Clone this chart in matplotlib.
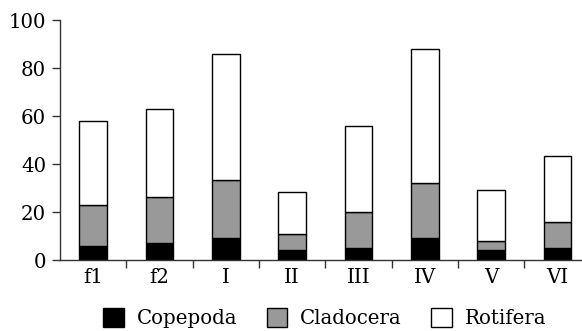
import numpy as np
import matplotlib
matplotlib.use('Agg')
import matplotlib.pyplot as plt
from matplotlib.patches import Patch

# sites and abundance per group (stacked)
sites = ['f1', 'f2', 'I', 'II', 'III', 'IV', 'V', 'VI']
copepoda = [6, 7, 9, 4.2, 5.1, 9, 4.2, 5.1]
cladocera = [17, 19.4, 24.2, 6.6, 14.8, 23.2, 3.8, 10.9]
rotifera = [35, 36.5, 52.8, 17.4, 36.1, 55.8, 21.2, 27.2]

plt.rcParams['font.family'] = ['DejaVu Serif']
plt.rcParams['font.size'] = 14.2

fig = plt.figure(figsize=(5.82, 3.31), dpi=100)
ax = fig.add_axes([60 / 582, 1 - 260 / 331, (582 - 60) / 582, 240 / 331])

x = np.arange(len(sites))
w = 0.42
cop = np.array(copepoda)
cla = np.array(cladocera)
rot = np.array(rotifera)

ax.bar(x, cop, w, color='black', edgecolor='black', linewidth=1)
ax.bar(x, cla, w, bottom=cop, color='#999999', edgecolor='black', linewidth=1)
ax.bar(x, rot, w, bottom=cop + cla, color='white', edgecolor='black', linewidth=1)

ax.set_xlim(-0.5, 7.37)
ax.set_ylim(0, 100)
ax.set_yticks([0, 20, 40, 60, 80, 100])
ax.set_xticks(x)
ax.set_xticklabels(sites)
ax.set_xticks(np.arange(0.5, 7, 1), minor=True)
ax.tick_params(axis='x', which='major', length=0, pad=6)
ax.tick_params(axis='x', which='minor', length=6, width=1, color='#333333', direction='out')
ax.tick_params(axis='y', length=6, width=1, color='#333333', pad=4)

for s in ['top', 'right']:
    ax.spines[s].set_visible(False)
for s in ['left', 'bottom']:
    ax.spines[s].set_color('#333333')
    ax.spines[s].set_linewidth(1)

handles = [Patch(facecolor='black', edgecolor='black', label='Copepoda'),
           Patch(facecolor='#999999', edgecolor='black', label='Cladocera'),
           Patch(facecolor='white', edgecolor='black', label='Rotifera')]
fig.legend(handles=handles, loc='lower center', bbox_to_anchor=(0.558, -0.045), ncol=3,
           frameon=False, handlelength=1.05, handleheight=1.05, handletextpad=0.65,
           columnspacing=1.5)

fig.savefig('out.png', dpi=100)
